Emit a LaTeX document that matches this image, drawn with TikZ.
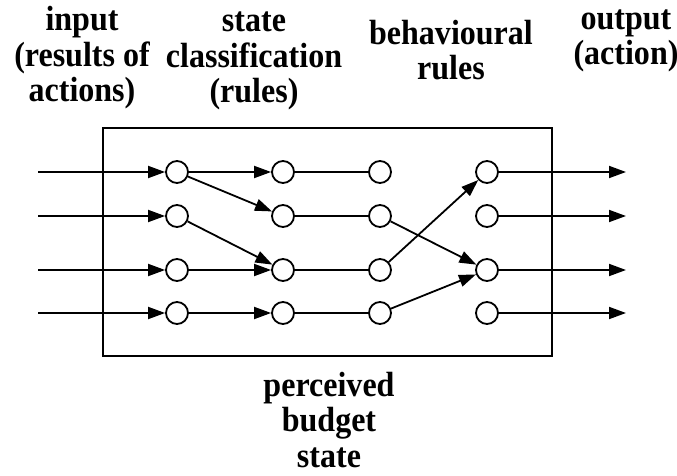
\documentclass[tikz,border=0pt]{standalone}
\usepackage{fontspec}
\setmainfont[FakeStretch=0.915]{Liberation Serif}
\usepackage{tikz}
\usetikzlibrary{arrows.meta}
\tikzset{>={Triangle[length=17pt,width=12pt]}}
\tikzset{
  unit/.style={circle, draw=black, line width=1.8pt, minimum size=22pt, inner sep=0pt},
  heading/.style={font=\fontsize{35}{35.5}\selectfont\bfseries, align=center, anchor=base, inner sep=0pt},
  wire/.style={line width=1.8pt}
}
\begin{document}
\begin{tikzpicture}[x=1pt,y=-1pt]
            \useasboundingbox (0,0) rectangle (677,476);

            % Frame
            \draw[line width=1.8pt] (103,128) rectangle (552,356);

            % Headings (placed by the baseline of the last line)
            \node[heading] (hin) at (82,102) {input\\(results of\\actions)};
            \node[heading] (hstate) at (254,103) {state\\classification\\(rules)};
            \node[heading] (hrules) at (451,80) {behavioural\\rules};
            \node[heading] (hout) at (626,65) {output\\(action)};
            \node[heading] (hbudget) at (329,467) {perceived\\budget\\state};

            % Free ends of the wires
            \coordinate (in1) at (38,172);
            \coordinate (in2) at (38,216);
            \coordinate (in3) at (38,270);
            \coordinate (in4) at (38,313);
            \coordinate (out1) at (626,172);
            \coordinate (out2) at (626,216);
            \coordinate (out3) at (626,270);
            \coordinate (out4) at (626,313);

            % Units, column by column
            \node[unit] (a1) at (177,172) {};
            \node[unit] (a2) at (177,216) {};
            \node[unit] (a3) at (177,270) {};
            \node[unit] (a4) at (177,313) {};
            \node[unit] (b1) at (283,172) {};
            \node[unit] (b2) at (283,216) {};
            \node[unit] (b3) at (283,270) {};
            \node[unit] (b4) at (283,313) {};
            \node[unit] (c1) at (380,172) {};
            \node[unit] (c2) at (380,216) {};
            \node[unit] (c3) at (380,270) {};
            \node[unit] (c4) at (380,313) {};
            \node[unit] (d1) at (487,172) {};
            \node[unit] (d2) at (487,216) {};
            \node[unit] (d3) at (487,270) {};
            \node[unit] (d4) at (487,313) {};

            % Input wires
            \draw[wire,->] (in1) -- (a1);
            \draw[wire,->] (in2) -- (a2);
            \draw[wire,->] (in3) -- (a3);
            \draw[wire,->] (in4) -- (a4);

            % State classification
            \draw[wire,->] (a1) -- (b1);
            \draw[wire,->] (a1) -- (b2);
            \draw[wire,->] (a2) -- (b3);
            \draw[wire,->] (a3) -- (b3);
            \draw[wire,->] (a4) -- (b4);

            % Perceived budget state
            \draw[wire] (b1) -- (c1);
            \draw[wire] (b2) -- (c2);
            \draw[wire] (b3) -- (c3);
            \draw[wire] (b4) -- (c4);

            % Behavioural rules
            \draw[wire,->] (c3) -- (d1);
            \draw[wire,->] (c2) -- (d3);
            \draw[wire,->] (c4) -- (d3);

            % Output wires
            \draw[wire,->] (d1) -- (out1);
            \draw[wire,->] (d2) -- (out2);
            \draw[wire,->] (d3) -- (out3);
            \draw[wire,->] (d4) -- (out4);

\end{tikzpicture}
\end{document}
